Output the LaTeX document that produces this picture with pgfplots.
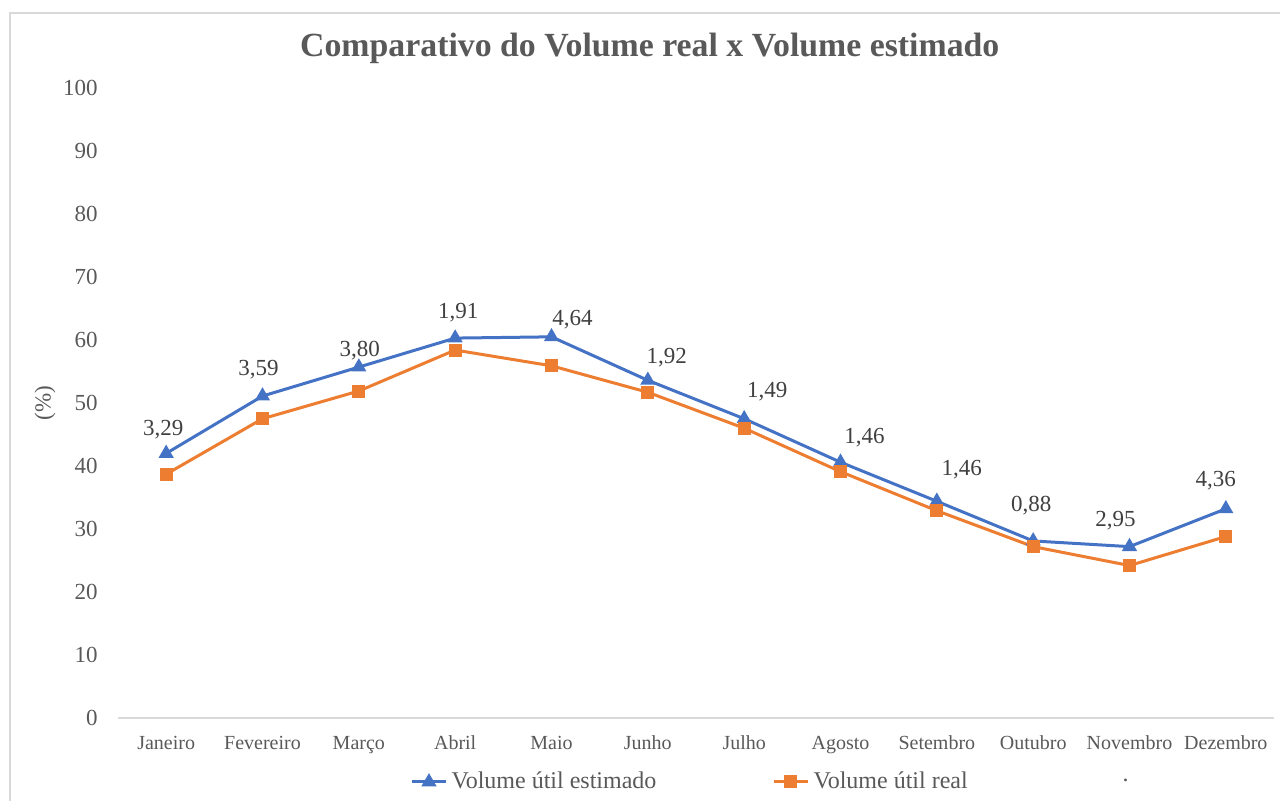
\documentclass[border=0pt]{standalone}
\usepackage{pgfplots}
\pgfplotsset{compat=1.18}
\usepackage{pgfplotstable}
\usepackage{fontspec}
\setmainfont{Liberation Serif}
\definecolor{cblue}{HTML}{4472C4}
\definecolor{corange}{HTML}{ED7D31}
\definecolor{txt}{HTML}{595959}
\definecolor{lbl}{HTML}{404040}
\definecolor{frame}{HTML}{D9D9D9}

\pgfplotstableread{
x est real dx dy lab
0 42.0 38.7 -1.5 12 3,29
1 51.1 47.5 -2 13 3,59
2 55.7 51.9 0.5 8 3,80
3 60.3 58.4 1.5 12.5 1,91
4 60.5 55.9 10.5 8.5 4,64
5 53.6 51.7 9.5 11.5 1,92
6 47.5 46.0 11.5 13.5 1,49
7 40.6 39.1 12 12.5 1,46
8 34.4 32.9 12.5 16 1,46
9 28.1 27.2 -1 17.5 0,88
10 27.2 24.2 -7 13 2,95
11 33.2 28.8 -5 14 4,36
}\datatable

\begin{document}
\begin{tikzpicture}
\path[use as bounding box] (0,0) rectangle (640pt,400.5pt);
\draw[frame, line width=0.75pt] (5pt,0) -- (5pt,394pt) -- (640pt,394pt);
\begin{axis}[
  at={(59pt,41.5pt)}, anchor=south west,
  scale only axis, width=578pt, height=315pt,
  xmin=-0.5, xmax=11.5, ymin=0, ymax=100,
  clip=false,
  axis x line=bottom, axis y line=left,
  x axis line style={-, draw=frame, line width=0.75pt},
  y axis line style={draw=none},
  tick style={draw=none},
  major tick length=0pt,
  ytick={0,10,...,100},
  xtick={0,...,11},
  xticklabels={Janeiro,Fevereiro,Março,Abril,Maio,Junho,Julho,Agosto,Setembro,Outubro,Novembro,Dezembro},
  /pgf/number format/assume math mode=true,
  yticklabel style={font=\fontsize{11.5}{13}\selectfont, text=txt, anchor=east, inner sep=0pt, xshift=-10pt},
  xticklabel style={font=\fontsize{10}{12}\selectfont, text=txt, anchor=base, inner sep=0pt, yshift=-15.75pt},
  ylabel={(\%)},
  ylabel style={at={(axis description cs:-0.063,0.5)}, anchor=center, font=\fontsize{11.5}{13}\selectfont, text=txt},
  title={Comparativo do Volume real x Volume estimado},
  title style={at={(axis description cs:0.46,1.044)}, anchor=center, font=\fontsize{16.9}{20}\selectfont\bfseries, text=txt},
  legend columns=3,
  legend cell align=left,
  legend style={at={(axis description cs:0.2526,-0.1015)}, anchor=west, draw=none, fill=none, inner sep=0pt,
    font=\fontsize{12}{14}\selectfont, text=txt,
    /tikz/every even column/.append style={column sep=56pt}},
]
\addplot[cblue, line width=1.5pt, mark=triangle*, mark size=2.9pt,
  mark options={solid},
  nodes near coords, point meta=explicit symbolic,
  visualization depends on={\thisrow{dx} \as \dxv},
  visualization depends on={\thisrow{dy} \as \dyv},
  nodes near coords style={anchor=center, text=lbl, font=\fontsize{11.5}{13}\selectfont, xshift=\dxv pt, yshift=\dyv pt}]
  table[x=x, y=est, meta=lab] {\datatable};
\addlegendentry{Volume útil estimado}
\addplot[corange, line width=1.5pt, mark=square*, mark size=2.5pt]
  table[x=x, y=real] {\datatable};
\addlegendentry{Volume útil real}
\addlegendimage{white, mark=none}
\addlegendentry{.}
\end{axis}
\end{tikzpicture}
\end{document}
